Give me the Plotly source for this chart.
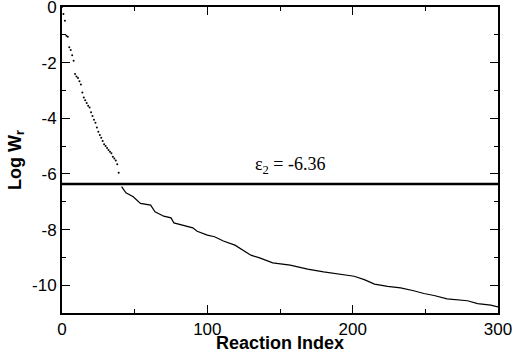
import plotly.graph_objects as go

# steep head of the sorted list: one dot per reaction
head_index = list(range(40))
head_logw = [
    0.0, -0.25, -0.49, -1.03, -1.07, -1.45, -1.55, -1.73, -1.93, -2.41,
    -2.50, -2.55, -2.67, -2.79, -3.07, -3.25, -3.35, -3.45, -3.55, -3.61,
    -3.78, -3.92, -4.05, -4.16, -4.33, -4.48, -4.60, -4.70, -4.82, -4.93,
    -5.00, -5.07, -5.14, -5.20, -5.26, -5.38, -5.45, -5.52, -5.65, -5.96,
]

tail_index = [41, 44, 49, 54, 61, 64, 70, 75, 77, 84, 90, 93, 100, 105, 111,
              119, 123, 130, 136, 145, 157, 169, 180, 192, 201, 208, 215, 224,
              233, 242, 249, 256, 265, 279, 286, 295, 300]
tail_logw = [-6.46, -6.68, -6.82, -7.06, -7.12, -7.36, -7.52, -7.58, -7.76,
             -7.87, -7.94, -8.06, -8.20, -8.26, -8.41, -8.56, -8.70, -8.92,
             -9.02, -9.20, -9.28, -9.42, -9.52, -9.60, -9.68, -9.80, -9.96,
             -10.04, -10.10, -10.20, -10.30, -10.37, -10.49, -10.56, -10.66,
             -10.72, -10.78]

eps2 = -6.36

x_ticks = [0, 100, 200, 300]
y_ticks = [0, -2, -4, -6, -8, -10]

fig = go.Figure()
fig.add_trace(go.Scatter(x=head_index, y=head_logw, mode="markers",
                         marker=dict(color="black", size=2)))
fig.add_trace(go.Scatter(x=tail_index, y=tail_logw, mode="lines",
                         line=dict(color="black", width=1.2)))

fig.add_shape(type="line", xref="x domain", yref="y", x0=0, x1=1,
              y0=eps2, y1=eps2, line=dict(color="black", width=2.5))
fig.add_annotation(x=157, y=-5.68, xref="x", yref="y", showarrow=False,
                   text=f"ε<sub>2</sub> = {eps2}",
                   font=dict(family="Liberation Serif", size=18, color="black"))

axis_common = dict(
    showgrid=False, zeroline=False, showline=True, linecolor="black",
    linewidth=2, mirror="allticks", ticks="inside", ticklen=8,
    tickcolor="black", tickwidth=1, automargin=False,
    ticklabeloverflow="allow",
    tickfont=dict(family="Liberation Sans", size=17, color="black"),
)

fig.update_xaxes(range=[0, 300], tickvals=x_ticks,
                 ticktext=[str(v) for v in x_ticks],
                 minor=dict(dtick=50, tick0=0, ticks="inside", ticklen=4,
                            tickcolor="black"),
                 title=dict(text="<b>Reaction Index</b>", standoff=0,
                            font=dict(family="Liberation Sans", size=18,
                                      color="black")),
                 **axis_common)
fig.update_yaxes(range=[-11, 0], tickvals=y_ticks,
                 ticktext=[str(v) for v in y_ticks],
                 minor=dict(dtick=1, tick0=0, ticks="inside", ticklen=4,
                            tickcolor="black"),
                 title=dict(text="<b>Log W<sub>r</sub></b>", standoff=6,
                            font=dict(family="Liberation Sans", size=18,
                                      color="black")),
                 **axis_common)

fig.update_layout(
    width=515, height=353,
    margin=dict(l=62, r=17, t=7, b=40),
    paper_bgcolor="white", plot_bgcolor="white",
    showlegend=False,
)

# the page's default body margin would shift the figure by 8px
fig.write_html("out.html", config={"displayModeBar": False},
               post_script="document.body.style.margin = '0';")
